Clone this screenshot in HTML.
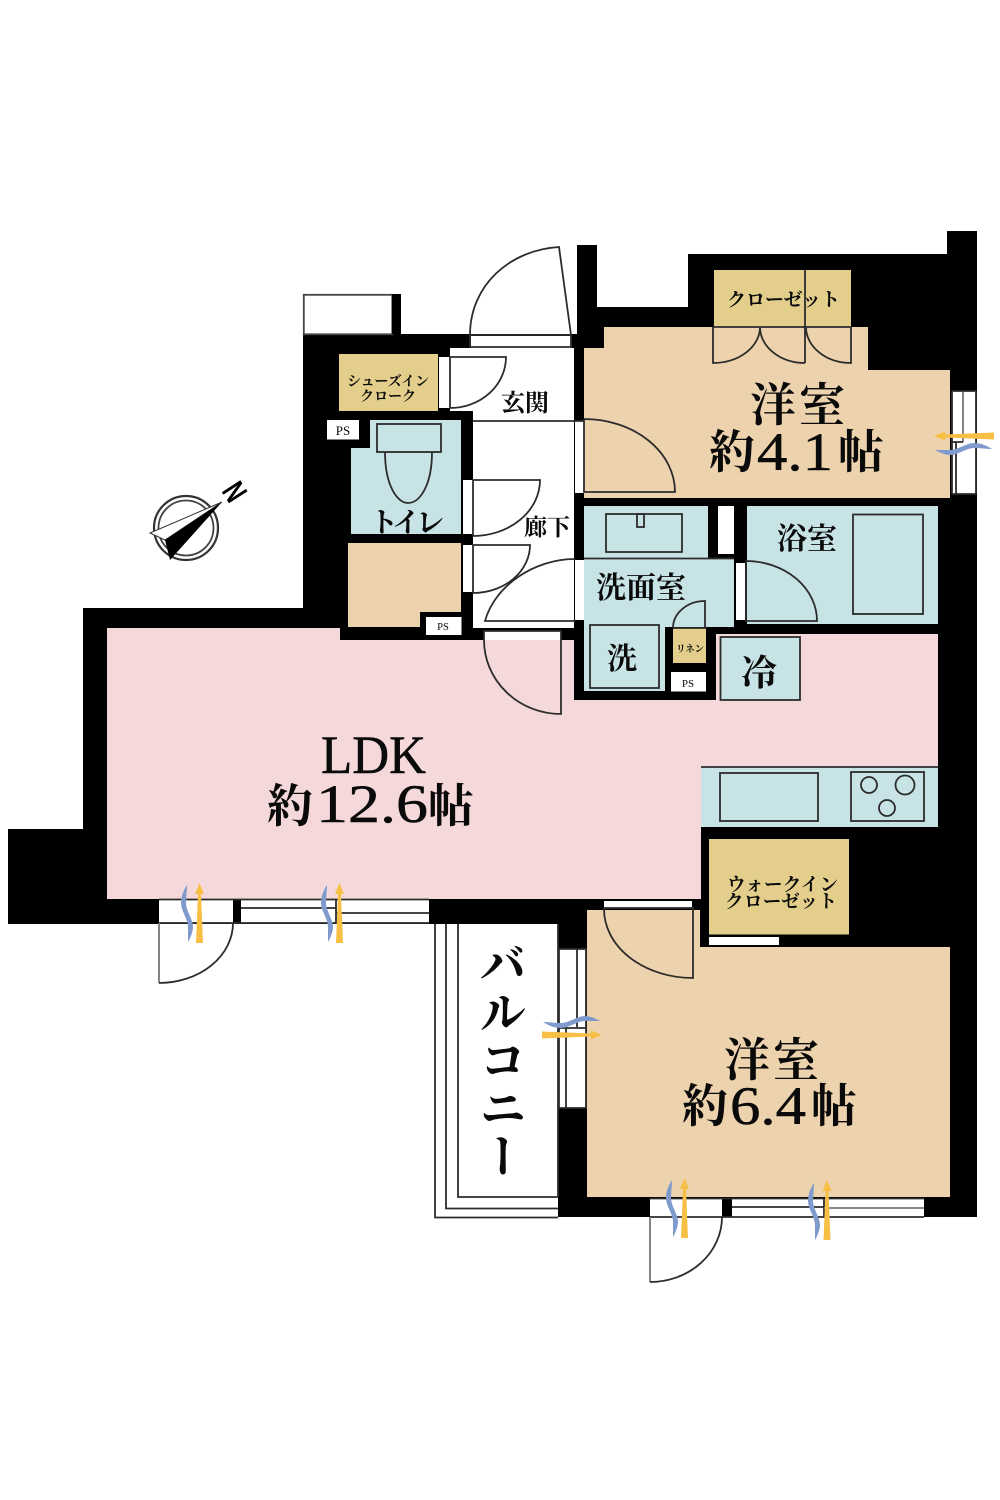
<!DOCTYPE html>
<html lang="ja"><head><meta charset="utf-8"><title>間取り図</title>
<style>
html,body{margin:0;padding:0;background:#fff}
svg{display:block}
.c{font-family:"Noto Serif CJK JP","Noto Serif CJK SC",serif;font-weight:700;fill:#0a0a0a}
.l{font-family:"Liberation Serif",serif;fill:#0a0a0a}
.ln{fill:none;stroke:#2c2c2c;stroke-width:1.8}
.g{fill:none;stroke:#777;stroke-width:1.8}
</style></head><body>
<svg xmlns="http://www.w3.org/2000/svg" width="1000" height="1500" viewBox="0 0 1000 1500">
<defs>
<polygon id="ya" fill="#f8bf45" points="-3.5,0 3.5,0 1.5,-49 4.5,-49 0,-60 -4.5,-49 -1.5,-49"/>
<path id="bw" fill="#7f9bce" d="M6 0C2 6 0 12 0 18C0 26 7 34 7 42C7 47 7 52 7 57C10 52 12 46 12 42C12 34 5 26 5 18C5 12 6 6 6 0Z"/>
</defs>
<rect width="1000" height="1500" fill="#fff"/>

<!-- silhouette -->
<polygon fill="#000" points="8,829 83,829 83,608 303,608 303,334 577,334 577,245 597,245 597,307 688,307 688,254 947,254 947,231 977,231 977,1217 558,1217 558,924 8,924"/>
<rect x="303.800" y="294.800" width="88.500" height="39.500" fill="#fff" stroke="#444" stroke-width="1.800"/>
<rect x="392" y="294" width="9" height="40" fill="#000"/>

<!-- hall -->
<polygon fill="#fff" points="450,348 574,348 574,628 473,628 473,411 450,411"/>
<rect x="471" y="336" width="100" height="12" fill="#fff"/>
<!-- rooms -->
<polygon fill="#f5d8da" points="107,628 340,628 340,640 574,640 574,700 716,700 716,634 938,634 938,767 701,767 701,899 107,899"/>
<polygon fill="#ecd3ae" points="584,348 604,348 604,327 868,327 868,370 950,370 950,498 584,498"/>
<polygon fill="#ecd3ae" points="587,910 700,910 700,947 950,947 950,1197 587,1197"/>
<polygon fill="#ecd3ae" points="348,543 461,543 461,612 420,612 420,627 348,627"/>
<polygon fill="#c8e3e6" points="370,420 461,420 461,534 351,534 351,448 370,448"/>
<polygon fill="#c8e3e6" points="584,506 708,506 708,559 734,559 734,627 665,627 665,691 584,691"/>
<rect x="747" y="506" width="191" height="118" fill="#c8e3e6"/>
<rect x="701" y="767" width="237" height="60" fill="#c8e3e6"/>
<line x1="701" y1="767" x2="938" y2="767" class="ln"/>
<!-- closets -->
<rect x="714" y="270" width="137" height="57" fill="#e3cf8b"/>
<rect x="339" y="354" width="99" height="57" fill="#e3cf8b"/>
<rect x="709" y="839" width="140" height="95.500" fill="#e3cf8b"/>
<rect x="673" y="628" width="33" height="35" fill="#e3cf8b"/>
<!-- white gaps -->
<rect x="439" y="357" width="11" height="51" fill="#fff"/>
<rect x="463" y="480" width="10" height="54" fill="#fff"/>
<rect x="463" y="545" width="10" height="47" fill="#fff"/>
<rect x="575" y="421" width="9" height="72" fill="#fff"/>
<rect x="575" y="560" width="9" height="60" fill="#fff"/>
<rect x="484" y="631" width="77" height="9" fill="#fff"/>
<rect x="718" y="506" width="16" height="48" fill="#fff"/>
<rect x="736" y="563" width="9" height="57" fill="#fff"/>
<rect x="709" y="937" width="70" height="8" fill="#fff"/>
<rect x="604" y="901" width="88" height="7" fill="#fff"/>
<rect x="952" y="391" width="24" height="103" fill="#fff"/>
<rect x="559" y="949" width="27" height="159" fill="#fff"/>
<rect x="159" y="900" width="74" height="23" fill="#fff"/>
<rect x="241" y="900" width="188" height="23" fill="#fff"/>
<rect x="650" y="1199" width="72" height="18" fill="#fff"/>
<rect x="732" y="1199" width="192" height="18" fill="#fff"/>
<!-- PS boxes -->
<rect x="327" y="420" width="32" height="19.500" fill="#fff"/>
<rect x="426" y="617" width="35.500" height="18" fill="#fff"/>
<rect x="671" y="672" width="35" height="19.500" fill="#fff"/>

<!-- balcony -->
<path class="ln" d="M435 924V1217.500H558M446 924V1208.500H558M458 924V1197H558M558 924V1197"/>
<rect x="459" y="924" width="98" height="272" fill="#fff"/>

<!-- fixtures -->
<rect class="ln" x="720.500" y="637" width="79.500" height="63" style="fill:#c8e3e6"/>
<rect class="ln" x="720" y="773" width="98" height="48"/>
<rect class="ln" x="851" y="772" width="73" height="49"/>
<circle class="ln" cx="869" cy="785" r="8"/><circle class="ln" cx="905" cy="785" r="9.500"/><circle class="ln" cx="887" cy="808" r="8"/>
<rect class="ln" x="853" y="514.500" width="70" height="99.500"/>
<rect class="ln" x="606" y="514" width="76" height="38"/>
<rect class="ln" x="637" y="514" width="7" height="13"/>
<rect class="ln" x="590" y="625" width="69" height="63"/>
<line class="ln" x1="584" y1="558.500" x2="734" y2="558.500"/>
<rect class="ln" x="377" y="424" width="64" height="28"/>
<path class="ln" d="M385 452C385 485 397 503 408 503C420 503 432 485 432 452"/>

<!-- closet line & doors -->
<path class="ln" d="M805 270V363M713 327H851M713 327V363A47 36 0 0 0 760 327A45 36 0 0 0 805 363M806 327A45 36 0 0 0 851 363V327"/>
<!-- entry door -->
<path class="ln" d="M470 347V335H571V347H470M470 335C470 285 510 250 559 247L571 335"/>
<!-- shoes door -->
<path class="ln" d="M450 408V357H506A56 51 0 0 1 450 408"/>
<line class="ln" x1="473" y1="421" x2="584" y2="421"/>
<!-- toilet door -->
<path class="ln" d="M473 536V480H540A67 56 0 0 1 473 536"/>
<!-- brown room door -->
<path class="ln" d="M473 593V545H530A57 48 0 0 1 473 593"/>
<!-- wash door -->
<path class="ln" d="M575 621H485C495 585 535 559 575 559"/>
<!-- LDK door -->
<path class="ln" d="M484 640V631H561V714A77 74 0 0 1 484 640"/>
<!-- 4.1 door -->
<path class="ln" d="M584 419V492H675A91 73 0 0 0 584 419"/>
<!-- bath door -->
<path class="ln" d="M746 561V621H817A71 60 0 0 0 746 561"/>
<!-- linen door -->
<path class="ln" d="M673 628H705V601A32 27 0 0 0 673 628"/>
<!-- lower bedroom door -->
<path class="ln" d="M604 908H693V978A89 69 0 0 1 604 908"/>
<!-- windows -->
<path class="g" d="M963 391V442"/>
<path class="ln" d="M952 391V494M976 391V494M952 391H976M952 494H976M952 442H963M956 442V494"/>
<path class="ln" d="M559 949H586V1108H559ZM577 949V1027M566 1028V1108M559 1028H586"/>
<!-- ldk bottom -->
<path class="ln" d="M159 899.500H429M159 923H429M241 908H336M336 913H429M336 899.500V923"/>
<path class="g" d="M159 923V983"/>
<path class="ln" d="M159 983A74 60 0 0 0 233 923"/>
<!-- lower bottom -->
<path class="ln" d="M650 1198.500H924M650 1217H924M732 1207H824M824 1198.500V1217"/>
<path class="g" d="M824 1208H924M650 1217V1282"/>
<path class="ln" d="M650 1282A72 65 0 0 0 722 1217"/>

<!-- arrows -->
<use href="#bw" x="181" y="885"/><use href="#ya" x="199.500" y="943"/>
<use href="#bw" x="321" y="885"/><use href="#ya" x="339.500" y="943"/>
<use href="#bw" x="666" y="1180"/><use href="#ya" x="684.500" y="1238"/>
<use href="#bw" x="808" y="1183"/><use href="#ya" x="827" y="1240"/>
<use href="#ya" transform="translate(994,436) rotate(-90)"/>
<use href="#bw" transform="translate(992,443) rotate(90)"/>
<use href="#ya" transform="translate(542,1035) rotate(90)"/>
<use href="#bw" transform="translate(543,1028) rotate(-90)"/>

<!-- compass -->
<circle cx="186" cy="528" r="32" fill="none" stroke="#333" stroke-width="2.200"/>
<circle cx="186" cy="528" r="27.500" fill="none" stroke="#444" stroke-width="1.800"/>
<polygon points="222,502 150,533 165,540" fill="#fff" stroke="#333" stroke-width="1"/>
<polygon points="222,502 165,540 170,560" fill="#000"/>
<text transform="translate(221,491) rotate(57) scale(0.7,1)" font-family="Liberation Sans,sans-serif" font-weight="700" font-size="32" fill="#000">N</text>

<!-- labels -->
<text class="c" x="727" y="306" font-size="19" textLength="113" lengthAdjust="spacing">クローゼット</text>
<text class="c" x="347" y="386" font-size="14" textLength="82">シューズイン</text>
<text class="c" x="360" y="401" font-size="14" textLength="56">クローク</text>
<text class="c" x="727" y="891" font-size="18.500" textLength="111">ウォークイン</text>
<text class="c" x="725" y="908" font-size="18.500" textLength="112">クローゼット</text>
<text class="c" x="676" y="652" font-size="9.500" textLength="28">リネン</text>
<text class="l" x="343" y="435" font-size="13" text-anchor="middle">PS</text>
<text class="l" x="443" y="630" font-size="10.500" text-anchor="middle">PS</text>
<text class="l" x="688" y="687" font-size="11" text-anchor="middle">PS</text>

<text class="c" x="501" y="411" font-size="24">玄関</text>
<text class="c" x="524" y="535" font-size="23">廊下</text>
<text class="c" x="370" y="532" font-size="28" textLength="74">トイレ</text>
<text class="c" x="596" y="598" font-size="30" textLength="90">洗面室</text>
<text class="c" x="777" y="549" font-size="30" textLength="60">浴室</text>
<text class="c" x="607" y="669" font-size="30">洗</text>
<text class="c" x="741" y="685" font-size="36">冷</text>

<text class="c" x="750" y="421" font-size="46" textLength="95">洋室</text>
<text class="c" x="709" y="468" font-size="46">約</text>
<text class="l" x="757" y="470" font-size="54" stroke="#0a0a0a" stroke-width="0.500" textLength="76" lengthAdjust="spacingAndGlyphs">4.1</text>
<text class="c" x="838" y="468" font-size="46">帖</text>

<text class="l" x="321" y="773" font-size="54" stroke="#0a0a0a" stroke-width="0.500" textLength="105" lengthAdjust="spacingAndGlyphs">LDK</text>
<text class="c" x="267" y="822" font-size="46">約</text>
<text class="l" x="316" y="822" font-size="54" stroke="#0a0a0a" stroke-width="0.500" textLength="112" lengthAdjust="spacingAndGlyphs">12.6</text>
<text class="c" x="428" y="822" font-size="46">帖</text>

<text class="c" x="724" y="1076" font-size="46" textLength="95">洋室</text>
<text class="c" x="682" y="1122" font-size="46">約</text>
<text class="l" x="730" y="1124" font-size="54" stroke="#0a0a0a" stroke-width="0.500" textLength="76" lengthAdjust="spacingAndGlyphs">6.4</text>
<text class="c" x="811" y="1122" font-size="46">帖</text>

<text class="c" x="503" y="940" font-size="47" style="writing-mode:vertical-rl;letter-spacing:1px">バルコニー</text>
</svg>
</body></html>
